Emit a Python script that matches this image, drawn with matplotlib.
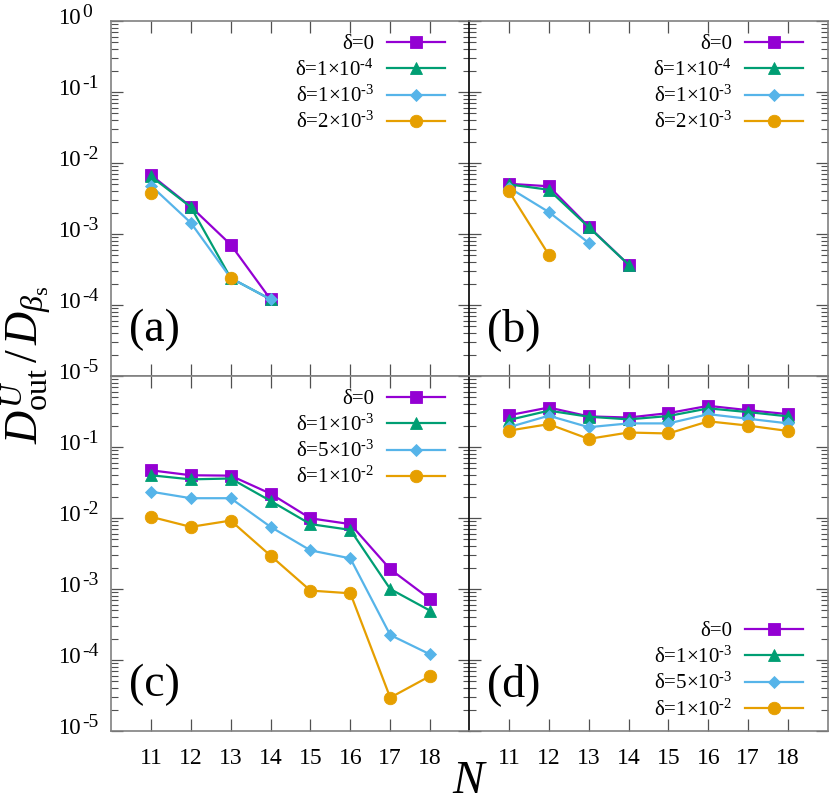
import numpy as np
import matplotlib
matplotlib.use("Agg")
import matplotlib.pyplot as plt
import matplotlib.font_manager as fm
from matplotlib.ticker import LogLocator, FixedLocator, NullFormatter

for f in fm.findSystemFonts():
    if 'LiberationSerif' in f:
        fm.fontManager.addfont(f)

plt.rcParams['font.family'] = ['Liberation Serif', 'DejaVu Serif']
plt.rcParams['mathtext.fontset'] = 'custom'
plt.rcParams['mathtext.rm'] = 'Liberation Serif'
plt.rcParams['mathtext.it'] = 'Liberation Serif:italic'
plt.rcParams['mathtext.bf'] = 'Liberation Serif:bold'

# data
N_ab = [11, 12, 13, 14]
N_cd = [11, 12, 13, 14, 15, 16, 17, 18]
nan = np.nan

labels_ab = [r'δ=0', r'δ=1×10$^{\text{-4}}$', r'δ=1×10$^{\text{-3}}$', r'δ=2×10$^{\text{-3}}$']
labels_cd = [r'δ=0', r'δ=1×10$^{\text{-3}}$', r'δ=5×10$^{\text{-3}}$', r'δ=1×10$^{\text{-2}}$']

a_d0 = [6.8e-3, 2.43e-3, 7.1e-4, 1.2e-4]
a_d1 = [6.5e-3, 2.4e-3, 2.4e-4, 1.2e-4]
a_d2 = [4.8e-3, 1.44e-3, 2.4e-4, 1.2e-4]
a_d3 = [3.8e-3, nan, 2.43e-4, nan]

b_d0 = [5.1e-3, 4.7e-3, 1.27e-3, 3.7e-4]
b_d1 = [5.0e-3, 4.2e-3, 1.25e-3, 3.7e-4]
b_d2 = [4.5e-3, 2.04e-3, 7.5e-4, nan]
b_d3 = [4.0e-3, 5.1e-4, nan, nan]

c_d0 = [4.7e-2, 4.0e-2, 3.95e-2, 2.2e-2, 9.9e-3, 8.2e-3, 1.9e-3, 7.2e-4]
c_d1 = [4.0e-2, 3.5e-2, 3.6e-2, 1.74e-2, 8.2e-3, 6.8e-3, 1.0e-3, 4.95e-4]
c_d2 = [2.35e-2, 1.9e-2, 1.9e-2, 7.5e-3, 3.5e-3, 2.7e-3, 2.25e-4, 1.2e-4]
c_d3 = [1.04e-2, 7.5e-3, 9.2e-3, 2.95e-3, 9.5e-4, 8.7e-4, 2.95e-5, 5.95e-5]

d_d0 = [0.28, 0.36, 0.27, 0.26, 0.30, 0.38, 0.33, 0.29]
d_d1 = [0.24, 0.325, 0.267, 0.245, 0.273, 0.35, 0.31, 0.27]
d_d2 = [0.19, 0.276, 0.19, 0.215, 0.215, 0.29, 0.25, 0.215]
d_d3 = [0.17, 0.21, 0.13, 0.16, 0.155, 0.23, 0.20, 0.168]

colors = ['#9400D3', '#009E73', '#56B4E9', '#E69F00']
markers = ['s', '^', 'D', 'o']
msizes = [9, 9, 6.5, 9]

fig = plt.figure(figsize=(8.3, 8.06), dpi=100)
lx, rx, w = 111 / 830, 469 / 830, 359 / 830
ty, by, h = 1 - 376 / 806, 1 - 731 / 806, 355 / 806
ax_a = fig.add_axes([lx, ty, w, h])
ax_b = fig.add_axes([rx, ty, w, h])
ax_c = fig.add_axes([lx, by, w, h])
ax_d = fig.add_axes([rx, by, w, h])

panels = [
    (ax_a, N_ab, [a_d0, a_d1, a_d2, a_d3], labels_ab, '(a)', 'upper'),
    (ax_b, N_ab, [b_d0, b_d1, b_d2, b_d3], labels_ab, '(b)', 'upper'),
    (ax_c, N_cd, [c_d0, c_d1, c_d2, c_d3], labels_cd, '(c)', 'upper'),
    (ax_d, N_cd, [d_d0, d_d1, d_d2, d_d3], labels_cd, '(d)', 'lower'),
]

for ax, xs, series, labs, tag, where in panels:
    for ys, c, m, ms, lab in zip(series, colors, markers, msizes, labs):
        ax.plot(xs, ys, color=c, marker=m, markersize=ms, lw=1.6,
                markeredgecolor=c, markeredgewidth=0.6, label=lab)
    ax.set_yscale('log')
    ax.set_ylim(1e-5, 1)
    ax.set_xlim(10, 19)
    ax.xaxis.set_major_locator(FixedLocator(N_cd))
    ax.yaxis.set_major_locator(LogLocator(base=10, numticks=10))
    ax.yaxis.set_minor_locator(LogLocator(base=10, subs=np.arange(2, 10), numticks=10))
    ax.yaxis.set_major_formatter(NullFormatter())
    ax.yaxis.set_minor_formatter(NullFormatter())
    ax.tick_params(which='both', direction='in', top=True, right=True,
                   color='#505050', labelsize=17)
    ax.tick_params(which='major', length=8.5, width=0.9)
    ax.tick_params(which='minor', length=5, width=0.8)
    for s in ax.spines.values():
        s.set_color('#808080')
        s.set_linewidth(1.2)
    if ax in (ax_a, ax_c):
        ax.spines['right'].set_color('black')
    else:
        ax.spines['left'].set_color('black')
    if ax in (ax_a, ax_b):
        ax.set_xticklabels([])
    else:
        ax.tick_params(axis='x', pad=12)
    if where == 'upper':
        anchor, loc = (0.93, 0.962), 'upper right'
    else:
        anchor, loc = (0.93, 0.03), 'lower right'
    ax.legend(loc=loc, bbox_to_anchor=anchor, frameon=False, markerfirst=False,
              fontsize=15, handlelength=2.8, handletextpad=0.6,
              labelspacing=0.25, borderaxespad=0, borderpad=0)
    ax.text(0.05, 0.13, tag, transform=ax.transAxes, fontsize=33,
            va='center', ha='left')

# y tick labels in gnuplot style: "10" with a big raised exponent
for ax, exps in ((ax_a, range(-5, 1)), (ax_c, range(-5, 0))):
    tr = ax.get_yaxis_transform()
    for e in exps:
        ax.annotate('10', xy=(0, 10.0 ** e), xycoords=tr, xytext=(-38, 1.5),
                    textcoords='offset points', ha='left', va='center',
                    fontsize=16.5, annotation_clip=False)
        ax.annotate('%d' % e, xy=(0, 10.0 ** e), xycoords=tr, xytext=(-20.6, 6),
                    textcoords='offset points', ha='left', va='center',
                    fontsize=14, annotation_clip=False)

fig.text(0.031, 0.547, r'$D^{U}_{\mathrm{out}}\,/\,D_{\beta_{\mathrm{s}}}$',
         rotation=90, fontsize=33, ha='center', va='center')
fig.text(0.566, 0.004, r'$N$', fontsize=34, ha='center', va='bottom')

fig.savefig('out.png', dpi=100)
